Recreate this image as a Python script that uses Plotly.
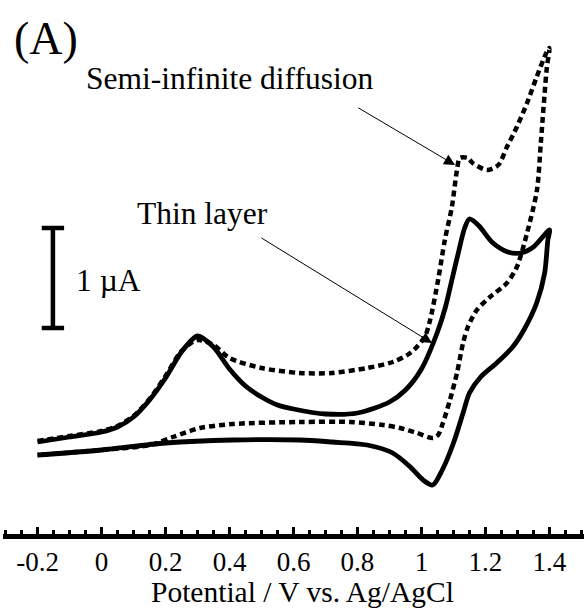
import plotly.graph_objects as go

# Cyclic voltammograms: potential (V vs. Ag/AgCl) and current (µA)
# Thin-layer cell (solid line)
solid_fwd_E = [-0.20, -0.10, 0.00, 0.05, 0.10, 0.15, 0.20, 0.25, 0.30, 0.35, 0.40,
               0.45, 0.50, 0.55, 0.60, 0.70, 0.80, 0.90, 0.95, 1.00, 1.05, 1.075,
               1.095, 1.115, 1.135, 1.15, 1.18, 1.22, 1.27, 1.31, 1.35, 1.40]
solid_fwd_I = [0.03, 0.08, 0.13, 0.18, 0.28, 0.45, 0.67, 0.93, 1.09, 0.98, 0.76,
               0.59, 0.48, 0.40, 0.36, 0.31, 0.32, 0.43, 0.55, 0.76, 1.13, 1.38,
               1.65, 1.92, 2.17, 2.26, 2.19, 2.03, 1.93, 1.92, 1.98, 2.15]
solid_rev_E = [1.40, 1.395, 1.385, 1.36, 1.32, 1.285, 1.235, 1.185, 1.15, 1.13, 1.10,
               1.065, 1.035, 1.005, 0.965, 0.91, 0.83, 0.72, 0.62, 0.41, 0.20, 0.00, -0.20]
solid_rev_I = [2.15, 2.05, 1.72, 1.42, 1.15, 0.98, 0.82, 0.68, 0.52, 0.32, 0.02,
               -0.25, -0.40, -0.35, -0.22, -0.08, 0.00, 0.03, 0.05, 0.05, 0.02, -0.05, -0.10]

# Semi-infinite diffusion (dashed line)
dash_fwd_E = [-0.20, -0.10, 0.00, 0.05, 0.10, 0.15, 0.20, 0.25, 0.30, 0.35, 0.40,
              0.50, 0.62, 0.72, 0.83, 0.91, 0.965, 1.01, 1.027, 1.052, 1.073, 1.095,
              1.111, 1.12, 1.145, 1.16, 1.205, 1.24, 1.267, 1.298, 1.33, 1.36, 1.39, 1.40]
dash_fwd_I = [0.04, 0.09, 0.14, 0.19, 0.29, 0.46, 0.69, 0.94, 1.05, 1.00, 0.87,
              0.77, 0.72, 0.72, 0.77, 0.83, 0.92, 1.08, 1.25, 1.65, 2.05, 2.38,
              2.75, 2.87, 2.87, 2.82, 2.75, 2.80, 2.98, 3.18, 3.42, 3.68, 3.92, 3.97]
dash_rev_E = [1.40, 1.392, 1.373, 1.361, 1.33, 1.298, 1.267, 1.214, 1.173, 1.145, 1.13,
              1.111, 1.089, 1.067, 1.052, 1.036, 0.986, 0.933, 0.88, 0.777, 0.62, 0.411,
              0.308, 0.223, 0.152, 0.00, -0.20]
dash_rev_I = [3.97, 3.78, 3.02, 2.55, 2.12, 1.78, 1.62, 1.48, 1.35, 1.18, 1.02,
              0.72, 0.45, 0.22, 0.10, 0.07, 0.12, 0.17, 0.20, 0.23, 0.23, 0.21,
              0.17, 0.08, 0.00, -0.05, -0.10]

x_tick_vals = [-0.2, 0.0, 0.2, 0.4, 0.6, 0.8, 1.0, 1.2, 1.4]
x_tick_labels = ["-0.2", "0", "0.2", "0.4", "0.6", "0.8", "1", "1.2", "1.4"]

scale_bar_uA = 1.0
scale_bar_base = 1.17

FONT = "Liberation Serif"

fig = go.Figure()
fig.add_trace(go.Scatter(
    x=dash_fwd_E + dash_rev_E[1:], y=dash_fwd_I + dash_rev_I[1:],
    mode="lines", line=dict(color="black", width=4.5, dash="6px,4px", shape="spline", smoothing=0.8),
    name="Semi-infinite diffusion"))
fig.add_trace(go.Scatter(
    x=solid_fwd_E + solid_rev_E[1:], y=solid_fwd_I + solid_rev_I[1:],
    mode="lines", line=dict(color="black", width=4.8, shape="spline", smoothing=0.8),
    name="Thin layer"))

# 1 µA scale bar
bx, cap = -0.152, 0.035
for shp in [
    dict(x0=bx, x1=bx, y0=scale_bar_base, y1=scale_bar_base + scale_bar_uA),
    dict(x0=bx - cap, x1=bx + cap, y0=scale_bar_base, y1=scale_bar_base),
    dict(x0=bx - cap, x1=bx + cap, y0=scale_bar_base + scale_bar_uA, y1=scale_bar_base + scale_bar_uA),
]:
    fig.add_shape(type="line", xref="x", yref="y", line=dict(color="black", width=4.5), **shp)

annotations = [
    dict(text="(A)", x=-0.175, y=4.07, font=dict(size=46)),
    dict(text="Semi-infinite diffusion", x=0.402, y=3.67, font=dict(size=31.5)),
    dict(text="Thin layer", x=0.317, y=2.32, font=dict(size=31.5)),
    dict(text="1 µA", x=-0.085, y=1.65, xanchor="left", font=dict(size=31.5)),
]
for a in annotations:
    a.setdefault("xanchor", "center")
    fig.add_annotation(xref="x", yref="y", yanchor="middle", showarrow=False, **a)

# Axis title, placed below the tick labels
fig.add_annotation(text="Potential / V vs. Ag/AgCl", xref="x", yref="paper",
                   x=0.627, y=-0.109, xanchor="center", yanchor="middle",
                   showarrow=False, font=dict(size=29.5))

# Pointer arrows
for head, tail in [((1.105, 2.80), (0.798, 3.38)), ((1.033, 1.02), (0.495, 2.08))]:
    fig.add_annotation(x=head[0], y=head[1], ax=tail[0], ay=tail[1],
                       xref="x", yref="y", axref="x", ayref="y", text="",
                       showarrow=True, arrowhead=2, arrowsize=2.2, arrowwidth=1,
                       arrowcolor="black", standoff=0)

fig.update_xaxes(
    range=[-0.308, 1.508], tickvals=x_tick_vals, ticktext=x_tick_labels,
    ticks="inside", ticklen=7, tickwidth=3, tickcolor="black",
    showline=True, linewidth=5, linecolor="black",
    showgrid=False, zeroline=False,
    tickfont=dict(family=FONT, size=27, color="black"),
    minor=dict(dtick=0.05, tick0=0, ticks="inside", ticklen=4, tickwidth=3,
               tickcolor="black", showgrid=False),
)
fig.update_yaxes(range=[-0.89, 4.45], visible=False)

fig.update_layout(
    width=584, height=608, margin=dict(l=3, r=0, t=0, b=74),
    plot_bgcolor="white", paper_bgcolor="white", showlegend=False,
    font=dict(family=FONT, color="black"),
)

fig.write_html("out.html")
